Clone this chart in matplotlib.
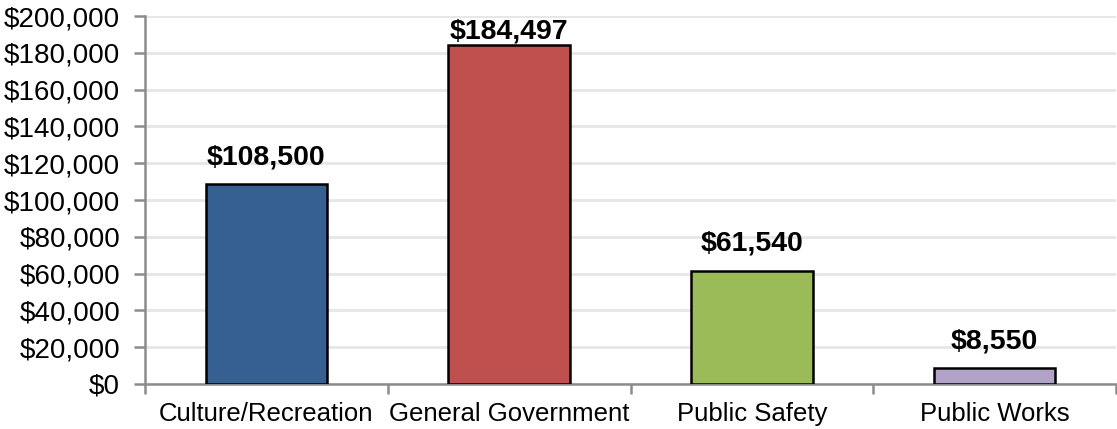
import matplotlib.pyplot as plt
import numpy as np
from matplotlib.ticker import FuncFormatter

# Chart data
categories = ['Culture/Recreation', 'General Government', 'Public Safety', 'Public Works']
amounts = [108500, 184497, 61540, 8550]
bar_colors = ['#376092', '#C0504D', '#9BBB59', '#B3A2C7']

plt.rcParams['font.family'] = ['Liberation Sans', 'DejaVu Sans']

fig = plt.figure(figsize=(11.17, 4.29), dpi=100)
ax = fig.add_axes([145 / 1117, 45 / 429, (1116 - 145) / 1117, (384 - 16) / 429])

x = np.arange(len(categories))
ax.bar(x, amounts, width=0.5, color=bar_colors, edgecolor='black', linewidth=1.8, zorder=3)

ymax = 200000
# Value labels above bars, kept inside the plot area like Excel does
for xi, val in zip(x, amounts):
    if val + 7500 + 12500 > ymax:
        ax.text(xi, ymax - 1500, '${:,}'.format(val), ha='center', va='top',
                fontsize=20.5, fontweight='bold', zorder=4)
    else:
        ax.text(xi, val + 7500, '${:,}'.format(val), ha='center', va='bottom',
                fontsize=20.5, fontweight='bold', zorder=4)

ax.set_xlim(-0.5, len(categories) - 0.5)
ax.set_ylim(0, ymax)
ax.set_yticks(np.arange(0, ymax + 1, 20000))
ax.yaxis.set_major_formatter(FuncFormatter(lambda v, p: '${:,.0f}'.format(v)))
ax.grid(axis='y', color='#e6e6e6', linewidth=2, zorder=0)

# Category labels centred, tick marks at category boundaries
ax.set_xticks(x)
ax.set_xticklabels(categories)
ax.set_xticks(np.arange(-0.5, len(categories), 1.0), minor=True)
ax.tick_params(axis='x', which='major', length=0, pad=13, labelsize=18.5)
ax.tick_params(axis='x', which='minor', length=7, width=1.8, color='#8c8c8c')
ax.tick_params(axis='y', length=8, width=1.8, color='#8c8c8c', labelsize=20, pad=10)

for side in ['top', 'right']:
    ax.spines[side].set_visible(False)
for side in ['left', 'bottom']:
    ax.spines[side].set_color('#8c8c8c')
    ax.spines[side].set_linewidth(1.8)

fig.savefig('out.png', dpi=100)
